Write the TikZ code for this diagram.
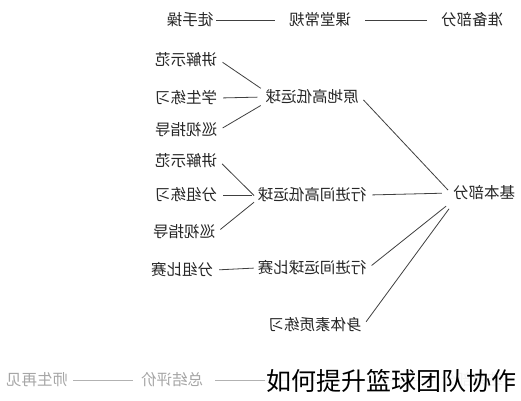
\documentclass[tikz,border=0pt]{standalone}
\usepackage{fontspec}
\newfontfamily\cjk{Noto Sans CJK SC}
\newcommand{\flipped}[1]{\scalebox{-1}[1]{#1}}

\begin{document}
\begin{tikzpicture}[x=1pt,y=-1pt,
    topic/.style={font=\cjk\fontsize{15.5}{15.5}\selectfont, text=black!85, inner sep=2pt},
    faded/.style={topic, text=black!35},
    link/.style={draw=black!75, line width=0.8pt, shorten <=4pt, shorten >=4pt},
    fadedlink/.style={draw=black!30, line width=0.8pt}]
            \useasboundingbox[fill=white] (0,0) rectangle (521,400);
            \node[topic] (prep) at (472,20) {\flipped{准备部分}};
            \node[topic] (routine) at (320,20) {\flipped{课堂常规}};
            \node[topic] (warmup) at (190,20) {\flipped{徒手操}};
            \node[topic] (stand) at (312,97) {\flipped{原地高低运球}};
            \node[topic] (demoA) at (186,60) {\flipped{讲解示范}};
            \node[topic] (practA) at (186,98) {\flipped{学生练习}};
            \node[topic] (guideA) at (186,130) {\flipped{巡视指导}};
            \node[topic] (basic) at (484,193) {\flipped{基本部分}};
            \node[topic] (move) at (312,195) {\flipped{行进间高低运球}};
            \node[topic] (demoB) at (186,161) {\flipped{讲解示范}};
            \node[topic] (groupB) at (186,195) {\flipped{分组练习}};
            \node[topic] (guideB) at (184,232) {\flipped{巡视指导}};
            \node[topic] (match) at (312,268) {\flipped{行进间运球比赛}};
            \node[topic] (matchG) at (182,270) {\flipped{分组比赛}};
            \node[topic] (fitness) at (315,325) {\flipped{身体素质练习}};
            \node[faded] (finish) at (472,380) {\flipped{结束部分}};
            \node[faded] (summary) at (172,380) {\flipped{总结评价}};
            \node[faded] (bye) at (37,380) {\flipped{师生再见}};
            \draw[link, shorten <=12pt, shorten >=12pt] (prep.west) -- (routine.east);
            \draw[link, shorten <=12pt, shorten >=1pt] (routine.west) -- (warmup.east);
            \draw[link, shorten <=3pt] ([yshift=7pt]stand.west) -- (demoA.east);
            \draw[link, shorten <=6pt] (stand.west) -- (practA.east);
            \draw[link, shorten <=3pt] ([yshift=-7pt]stand.west) -- (guideA.east);
            \draw[link] (basic.west) -- (stand.east);
            \draw[link, shorten <=2pt] ([yshift=-2pt]move.west) -- (demoB.east);
            \draw[link] (move.west) -- (groupB.east);
            \draw[link, shorten <=2pt] ([yshift=-6pt]move.west) -- (guideB.east);
            \draw[link, shorten <=9pt, shorten >=4pt] (basic.west) -- (move.east);
            \draw[link, shorten <=2pt] (match.west) -- (matchG.east);
            \draw[link, shorten <=6pt] (basic.south west) -- (match.east);
            \draw[link, shorten <=3pt] ([yshift=-4pt]basic.south west) -- (fitness.east);
            \draw[fadedlink, shorten <=4pt, shorten >=10pt] (finish.west) -- (summary.east);
            \draw[fadedlink, shorten <=6pt, shorten >=3pt] (summary.west) -- (bye.east);
            \node[font=\cjk\fontsize{25}{25}\selectfont, fill=white, fill opacity=0.85, text opacity=1, inner sep=1pt] (title) at (391,381) {如何提升篮球团队协作};
        \end{tikzpicture}
\end{document}
